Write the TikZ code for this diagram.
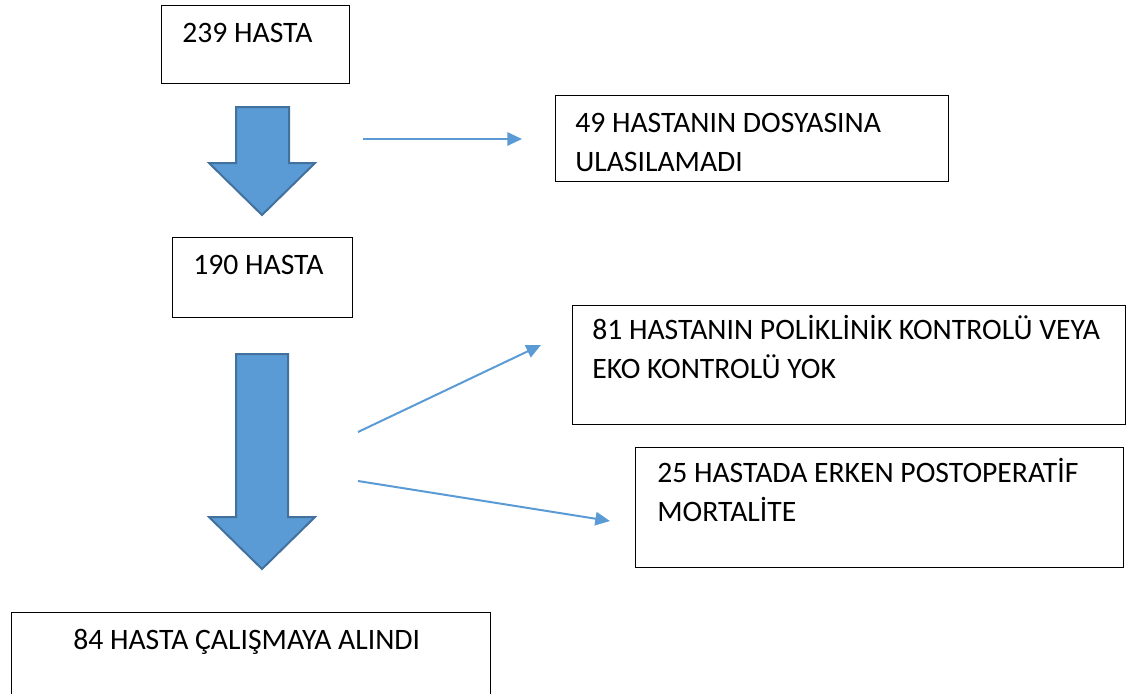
\documentclass[tikz,border=0pt]{standalone}
\usepackage{fontspec}
\setmainfont{Carlito}
\usetikzlibrary{arrows.meta}

\definecolor{flowblue}{HTML}{5B9BD5}
\definecolor{flowedge}{HTML}{41719C}

\tikzset{
  box/.style={draw, line width=1.1pt, inner sep=0, anchor=north west},
  boxtext/.style={inner sep=0, anchor=north west, align=left,
    font=\fontsize{22.25pt}{29.25pt}\selectfont},
  bigarrow/.style={fill=flowblue, draw=flowedge, line width=1.5pt},
  thinarrow/.style={draw=flowblue, line width=1.5pt, -{Triangle[length=11pt, width=10pt]}}
}

\begin{document}
\begin{tikzpicture}[x=0.75pt, y=-0.75pt]
  \useasboundingbox (0, 0) rectangle (1135, 693);

  \node[box, minimum width={188*0.75pt}, minimum height={78*0.75pt}] (b239) at (161, 5) {};
  \node[boxtext] (t239) at (182, 15) {\strut 239 HASTA};

  \node[box, minimum width={393*0.75pt}, minimum height={86*0.75pt}] (b49) at (555, 95) {};
  \node[boxtext] (t49) at (575, 105) {\strut 49 HASTANIN DOSYASINA\\ULASILAMADI};

  \node[box, minimum width={180*0.75pt}, minimum height={80*0.75pt}] (b190) at (172, 237) {};
  \node[boxtext] (t190) at (193, 247) {\strut 190 HASTA};

  \node[box, minimum width={553*0.75pt}, minimum height={119*0.75pt}] (b81) at (572, 305) {};
  \node[boxtext] (t81) at (592, 312) {\strut 81 HASTANIN POLİKLİNİK KONTROLÜ VEYA\\EKO KONTROLÜ YOK};

  \node[box, minimum width={488*0.75pt}, minimum height={120*0.75pt}] (b25) at (635, 447) {};
  \node[boxtext] (t25) at (657, 455) {\strut 25 HASTADA ERKEN POSTOPERATİF\\MORTALİTE};

  \node[box, minimum width={479*0.75pt}, minimum height={84*0.75pt}] (b84) at (11, 612) {};
  \node[boxtext] (t84) at (73, 622) {\strut 84 HASTA ÇALIŞMAYA ALINDI};

  % block arrows
  \draw[bigarrow] (236, 107) -- (289, 107) -- (289, 163) -- (315, 163)
    -- (262, 215) -- (209, 163) -- (236, 163) -- cycle;
  \draw[bigarrow] (236, 354) -- (288, 354) -- (288, 517) -- (315, 517)
    -- (262, 569) -- (209, 517) -- (236, 517) -- cycle;

  % side arrows
  \coordinate (s49) at (363, 139);
  \coordinate (e49) at (522, 139);
  \coordinate (s81) at (358, 432);
  \coordinate (e81) at (541, 345);
  \coordinate (s25) at (358, 481);
  \coordinate (e25) at (610, 521);

  \draw[thinarrow] (s49) -- (e49);
  \draw[thinarrow] (s81) -- (e81);
  \draw[thinarrow] (s25) -- (e25);
\end{tikzpicture}
\end{document}
